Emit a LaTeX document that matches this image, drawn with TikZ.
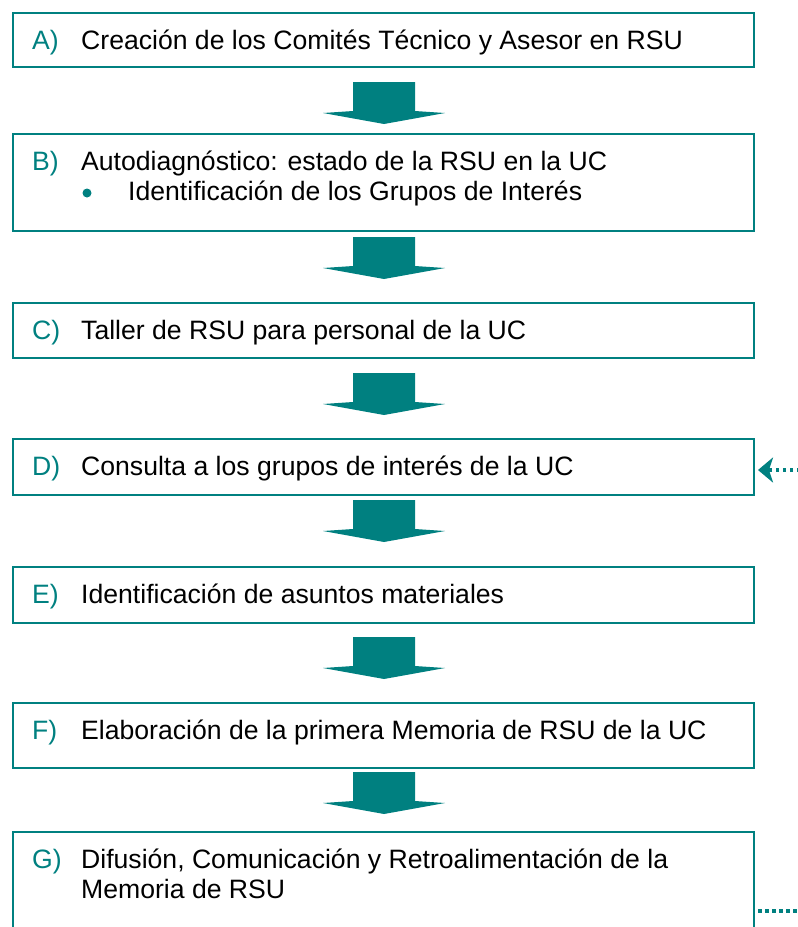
\documentclass[tikz,border=0pt]{standalone}
\usepackage{fontspec}
\setmainfont{Liberation Sans}
\usetikzlibrary{arrows.meta}
\definecolor{verdeuc}{RGB}{0,128,128}
\begin{document}
\begin{tikzpicture}
[x=1pt, y=-1pt, font=\fontsize{26.6}{30}\selectfont,
caja/.style={rectangle, draw=verdeuc, line width=2pt, inner sep=0pt, minimum width=741pt, anchor=north west},
etiq/.style={anchor=base west, inner sep=0pt, text=verdeuc},
texto/.style={anchor=base west, inner sep=0pt, text=black},
vineta/.style={circle, fill=verdeuc, inner sep=0pt, minimum size=9pt},
flecha/.style={fill=verdeuc, draw=none},
punteado/.style={draw=verdeuc, line width=3.5pt, dash pattern=on 3.5pt off 3.5pt}
]
\clip (0,0) rectangle (798,927);

\node[caja, minimum height=54pt] (cajaA) at (12,12) {};
\node[caja, minimum height=97pt] (cajaB) at (12,133) {};
\node[caja, minimum height=55pt] (cajaC) at (12,302) {};
\node[caja, minimum height=56pt] (cajaD) at (12,438) {};
\node[caja, minimum height=56pt] (cajaE) at (12,566) {};
\node[caja, minimum height=65pt] (cajaF) at (12,702) {};
\node[caja, minimum height=160pt] (cajaG) at (12,831) {};

\node[etiq] (etiqA) at (32,49) {A)};
\node[texto] (textoA) at (81,49) {Creación de los Comités Técnico y Asesor en RSU};

\node[etiq] (etiqB) at (32,170) {B)};
\node[texto] (textoB) at (81,170) {Autodiagnóstico: estado de la RSU en la UC};
\node[vineta] (vinetaB) at (87,193) {};
\node[texto] (textoB2) at (128,200) {Identificación de los Grupos de Interés};

\node[etiq] (etiqC) at (32,339) {C)};
\node[texto] (textoC) at (81,339) {Taller de RSU para personal de la UC};

\node[etiq] (etiqD) at (32,475) {D)};
\node[texto] (textoD) at (81,475) {Consulta a los grupos de interés de la UC};

\node[etiq] (etiqE) at (32,603) {E)};
\node[texto] (textoE) at (81,603) {Identificación de asuntos materiales};

\node[etiq] (etiqF) at (32,739) {F)};
\node[texto] (textoF) at (81,739) {Elaboración de la primera Memoria de RSU de la UC};

\node[etiq] (etiqG) at (32,868) {G)};
\node[texto] (textoG) at (81,868) {Difusión, Comunicación y Retroalimentación de la};
\node[texto] (textoG2) at (81,898) {Memoria de RSU};

\foreach \t in {82,237,373,500,637,772} {
  \fill[flecha] (353,\t) -- (415,\t) -- (415,\t+29) -- (445,\t+31) -- (384,\t+42)
    -- (323,\t+31) -- (353,\t+29) -- cycle;
}

\coordinate (retroD) at (800,470);
\coordinate (retroG) at (800,911);
\draw[punteado, -{Stealth[length=15pt, width=25pt, inset=4pt]}, shorten >=3pt] (retroD) -- (cajaD.east |- retroD);
\draw[punteado] ([xshift=3pt]cajaG.east |- retroG) -- (retroG);

\end{tikzpicture}
\end{document}
